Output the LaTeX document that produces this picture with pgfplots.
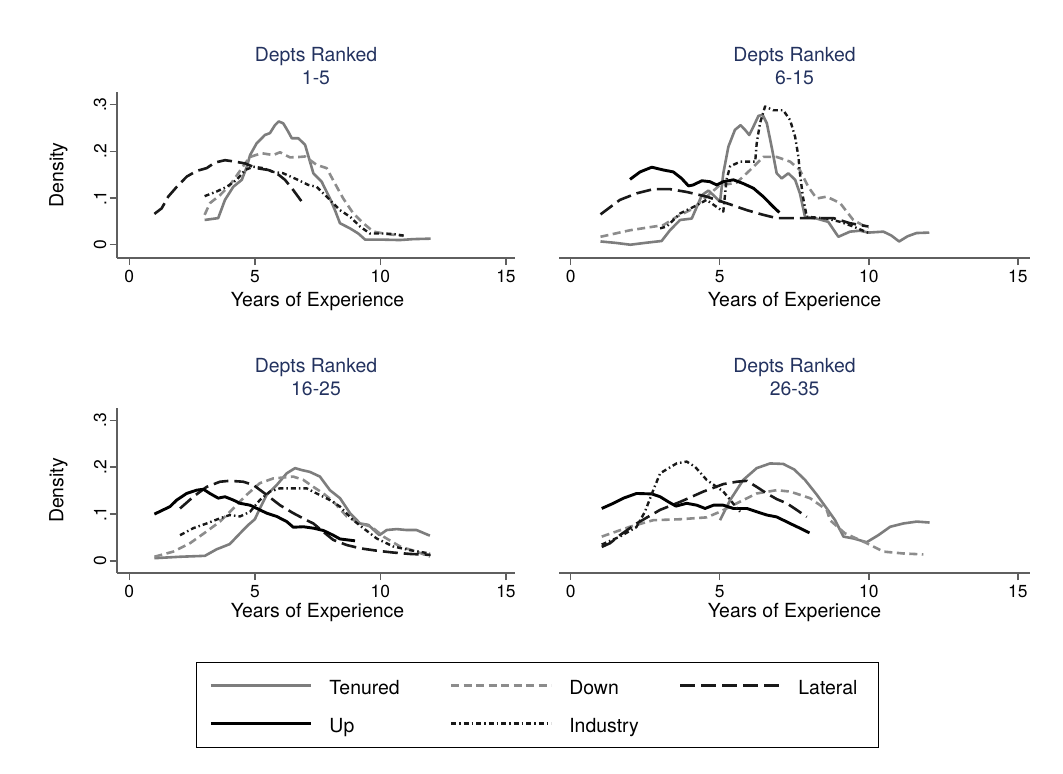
\documentclass[border=0pt]{standalone}
\usepackage{fontspec}
\setmainfont{TeX Gyre Heros}
\usepackage{pgfplots}
\pgfplotsset{compat=1.18}

\definecolor{tengray}{RGB}{125,125,125}
\definecolor{downgray}{RGB}{140,140,140}
\definecolor{axisgray}{RGB}{95,95,95}
\definecolor{titlenavy}{RGB}{35,50,95}

\newcommand{\ticksize}{\fontsize{17.5}{20}\selectfont}
\newcommand{\labsize}{\fontsize{19.5}{22}\selectfont}

\pgfplotsset{
  panel/.style={
    scale only axis, anchor=south west,
    axis x line*=bottom, axis y line*=left,
    axis line style={line width=1.8bp, draw=axisgray},
    tick style={line width=1.5bp, draw=axisgray},
    tick align=outside, major tick length=7.5bp,
    xtick={0,5,10,15}, xticklabels={0,5,10,15},
    ytick={0,0.1,0.2,0.3}, yticklabels={0,.1,.2,.3},
    xticklabel style={font=\ticksize, anchor=north, inner sep=0pt, yshift=-5bp},
    yticklabel style={font=\ticksize, rotate=90, anchor=south, inner xsep=0pt, inner ysep=3bp},
  },
  noy/.style={axis y line=none, ytick=\empty},
  tenured/.style={color=tengray, line width=2.6bp, solid, line join=round},
  down/.style={color=downgray, line width=2.6bp, dash pattern=on 8bp off 4.5bp, line join=round},
  lateral/.style={color=black!90, line width=2.6bp, dash pattern=on 15bp off 6bp, line join=round},
  up/.style={color=black, line width=2.9bp, solid, line join=round},
  industry/.style={color=black!90, line width=2.4bp, dash pattern=on 5bp off 3bp on 1.5bp off 3bp, line join=round},
}

\begin{document}
\begin{tikzpicture}
\path[use as bounding box] (0bp,0bp) rectangle (1063bp,-774bp);

% ---- Depts Ranked 1-5
\begin{axis}[panel, at={(117bp,-257.7bp)}, width=398bp, height=166bp,
  xmin=-0.49, xmax=15.36, ymin=-0.0278, ymax=0.3277]
\addplot[tenured] coordinates {(3.0,0.053) (3.54,0.057) (3.81,0.096) (4.14,0.124) (4.48,0.139) (4.68,0.167) (4.81,0.192) (5.07,0.217) (5.4,0.235) (5.6,0.239) (5.8,0.256) (5.95,0.264) (6.13,0.26) (6.33,0.242) (6.47,0.228) (6.73,0.228) (7.0,0.214) (7.33,0.153) (7.66,0.135) (7.99,0.099) (8.19,0.074) (8.39,0.046) (8.79,0.035) (9.12,0.024) (9.39,0.011) (9.98,0.011) (10.78,0.01) (11.31,0.012) (12.0,0.013)};
\addplot[down] coordinates {(3.0,0.064) (3.21,0.089) (3.61,0.106) (4.01,0.128) (4.34,0.153) (4.61,0.174) (4.81,0.188) (5.27,0.196) (5.73,0.192) (6.0,0.198) (6.4,0.187) (6.8,0.188) (7.0,0.189) (7.46,0.171) (7.86,0.164) (8.19,0.131) (8.52,0.099) (8.92,0.067) (9.32,0.046) (9.72,0.028) (10.25,0.023) (10.9,0.019)};
\addplot[lateral] coordinates {(1.0,0.066) (1.29,0.078) (1.55,0.103) (1.89,0.124) (2.29,0.146) (2.68,0.158) (3.08,0.164) (3.41,0.176) (3.81,0.181) (4.21,0.178) (4.61,0.174) (5.07,0.164) (5.54,0.16) (5.87,0.153) (6.2,0.139) (6.53,0.117) (6.87,0.092) (7.0,0.085)};
\addplot[industry] coordinates {(3.0,0.104) (3.48,0.114) (3.88,0.124) (4.28,0.139) (4.61,0.16) (4.94,0.167) (5.34,0.164) (5.73,0.156) (6.13,0.153) (6.67,0.14) (7.13,0.128) (7.46,0.124) (7.99,0.096) (8.39,0.074) (8.79,0.06) (9.19,0.039) (9.58,0.024) (10.12,0.024) (10.51,0.023) (11.0,0.019)};
\end{axis}

% ---- Depts Ranked 6-15
\begin{axis}[panel, noy, at={(559.3bp,-257.7bp)}, width=470.7bp, height=166bp,
  xmin=-0.383, xmax=15.41, ymin=-0.0278, ymax=0.3277]
\addplot[tenured] coordinates {(1.0,0.007) (1.5,0.004) (2.0,0.0) (2.5,0.004) (3.05,0.008) (3.33,0.031) (3.67,0.053) (4.06,0.056) (4.23,0.081) (4.4,0.106) (4.62,0.116) (4.84,0.103) (5.01,0.092) (5.12,0.153) (5.29,0.21) (5.51,0.246) (5.7,0.256) (5.85,0.246) (5.99,0.235) (6.13,0.253) (6.3,0.276) (6.44,0.278) (6.58,0.26) (6.74,0.21) (6.91,0.153) (7.08,0.142) (7.3,0.153) (7.53,0.139) (7.69,0.11) (7.86,0.06) (8.25,0.056) (8.64,0.049) (8.98,0.017) (9.37,0.028) (9.7,0.03) (9.99,0.026) (10.49,0.028) (10.75,0.02) (11.02,0.007) (11.3,0.018) (11.6,0.025) (12.03,0.026)};
\addplot[down] coordinates {(1.0,0.017) (1.99,0.031) (3.11,0.042) (3.56,0.06) (4.12,0.078) (4.56,0.103) (5.01,0.128) (5.3,0.13) (5.57,0.133) (6.02,0.16) (6.46,0.188) (6.91,0.188) (7.36,0.178) (7.69,0.16) (7.97,0.124) (8.25,0.099) (8.59,0.103) (9.04,0.089) (9.48,0.053) (9.99,0.035)};
\addplot[lateral] coordinates {(1.0,0.065) (1.65,0.096) (2.21,0.11) (2.77,0.119) (3.33,0.119) (3.89,0.113) (4.56,0.103) (5.23,0.089) (5.91,0.074) (6.46,0.064) (6.91,0.057) (7.5,0.057) (8.2,0.057) (8.81,0.057) (9.37,0.046) (9.99,0.039)};
\addplot[up] coordinates {(1.99,0.14) (2.33,0.156) (2.72,0.166) (3.11,0.16) (3.44,0.156) (3.72,0.142) (3.95,0.126) (4.11,0.128) (4.4,0.137) (4.67,0.135) (4.9,0.128) (5.12,0.135) (5.46,0.139) (5.79,0.131) (6.13,0.121) (6.46,0.103) (6.8,0.081) (7.0,0.069)};
\addplot[industry] coordinates {(3.0,0.035) (3.22,0.039) (3.67,0.067) (4.12,0.081) (4.56,0.096) (4.96,0.078) (5.12,0.071) (5.23,0.14) (5.35,0.168) (5.69,0.178) (6.19,0.178) (6.24,0.217) (6.35,0.26) (6.52,0.296) (6.8,0.288) (7.13,0.288) (7.36,0.267) (7.53,0.231) (7.64,0.188) (7.69,0.153) (7.79,0.103) (7.92,0.06) (8.59,0.056) (9.04,0.049) (9.48,0.039) (10.0,0.025)};
\end{axis}

% ---- Depts Ranked 16-25 (carries the shared legend)
\begin{axis}[panel, at={(117bp,-572.7bp)}, width=398bp, height=164.4bp,
  xmin=-0.49, xmax=15.36, ymin=-0.025, ymax=0.3256,
  legend columns=3, legend cell align=left,
  legend image code/.code={\draw[#1] (0bp,0bp) -- (100bp,0bp);},
  legend style={at={(1.0565,-0.8017)}, anchor=center, draw=black, line width=1bp,
    font=\labsize, inner xsep=13bp, inner ysep=15bp, row sep=21bp,
    nodes={inner sep=0pt, text height=17bp, text depth=0bp},
    /tikz/every odd column/.append style={column sep=17bp},
    /tikz/column 2/.append style={column sep=50bp},
    /tikz/column 4/.append style={column sep=40bp},
    /tikz/column 6/.append style={text width=67bp}}]
\addplot[tenured] coordinates {(1.0,0.006) (2.02,0.009) (3.01,0.011) (3.48,0.025) (4.0,0.036) (4.41,0.059) (4.74,0.077) (5.0,0.089) (5.2,0.112) (5.47,0.141) (5.87,0.162) (6.27,0.187) (6.6,0.198) (6.86,0.194) (7.19,0.19) (7.59,0.18) (7.99,0.151) (8.39,0.134) (8.79,0.102) (9.19,0.08) (9.52,0.077) (9.96,0.055) (10.25,0.066) (10.65,0.068) (11.04,0.066) (11.44,0.066) (11.97,0.054)};
\addlegendentry{Tenured}
\addplot[down] coordinates {(1.0,0.009) (1.75,0.02) (2.42,0.038) (3.08,0.063) (3.61,0.084) (4.14,0.112) (4.67,0.141) (5.2,0.166) (5.73,0.176) (6.53,0.18) (6.93,0.173) (7.33,0.158) (7.73,0.144) (8.12,0.127) (8.66,0.095) (9.19,0.08) (9.65,0.073) (10.12,0.052) (10.78,0.031) (11.44,0.02) (11.97,0.009)};
\addlegendentry{Down}
\addplot[lateral] coordinates {(2.02,0.112) (2.55,0.137) (3.08,0.158) (3.61,0.169) (4.0,0.171) (4.54,0.169) (4.94,0.162) (5.47,0.141) (6.0,0.119) (6.53,0.102) (7.06,0.087) (7.33,0.08) (7.73,0.062) (8.12,0.045) (8.66,0.034) (9.19,0.027) (9.85,0.022) (10.51,0.018) (11.18,0.015) (12.0,0.013)};
\addlegendentry{Lateral}
\addplot[up] coordinates {(1.0,0.1) (1.35,0.109) (1.62,0.116) (1.89,0.13) (2.28,0.144) (2.68,0.151) (2.95,0.153) (3.21,0.144) (3.54,0.134) (3.81,0.137) (4.14,0.13) (4.41,0.123) (4.81,0.119) (5.2,0.109) (5.47,0.102) (5.87,0.095) (6.27,0.084) (6.53,0.072) (6.93,0.073) (7.33,0.07) (7.73,0.065) (8.12,0.055) (8.39,0.047) (8.99,0.043)};
\addlegendentry{Up}
\addplot[industry] coordinates {(2.02,0.055) (2.55,0.07) (3.08,0.08) (3.61,0.091) (4.0,0.098) (4.41,0.095) (4.81,0.105) (5.2,0.13) (5.6,0.148) (6.0,0.155) (6.53,0.155) (7.06,0.155) (7.46,0.144) (7.99,0.13) (8.39,0.116) (8.92,0.087) (9.32,0.07) (9.85,0.048) (10.51,0.031) (11.18,0.023) (11.97,0.016)};
\addlegendentry{Industry}
\end{axis}

% ---- Depts Ranked 26-35
\begin{axis}[panel, noy, at={(559.3bp,-572.7bp)}, width=470.7bp, height=164.4bp,
  xmin=-0.383, xmax=15.41, ymin=-0.025, ymax=0.3256]
\addplot[tenured] coordinates {(5.01,0.087) (5.35,0.13) (5.79,0.173) (6.24,0.198) (6.69,0.208) (7.13,0.207) (7.5,0.195) (7.86,0.173) (8.26,0.141) (8.59,0.112) (8.87,0.087) (9.15,0.052) (9.49,0.048) (9.93,0.04) (10.32,0.055) (10.72,0.073) (11.16,0.08) (11.61,0.084) (12.04,0.082)};
\addplot[down] coordinates {(1.04,0.052) (1.99,0.073) (2.77,0.087) (3.67,0.089) (4.56,0.093) (5.01,0.105) (5.79,0.13) (6.24,0.144) (6.91,0.151) (7.36,0.148) (8.03,0.134) (8.59,0.109) (8.7,0.087) (9.2,0.059) (9.93,0.038) (10.49,0.02) (11.16,0.016) (11.83,0.014)};
\addplot[lateral] coordinates {(1.04,0.03) (1.32,0.038) (1.65,0.055) (2.21,0.08) (3.0,0.109) (3.67,0.126) (4.45,0.148) (5.12,0.164) (5.57,0.169) (5.91,0.171) (6.24,0.158) (6.58,0.144) (6.91,0.132) (7.25,0.123) (7.58,0.109) (7.92,0.094)};
\addplot[up] coordinates {(1.04,0.112) (1.43,0.123) (1.77,0.134) (2.21,0.144) (2.72,0.143) (3.0,0.137) (3.28,0.126) (3.53,0.117) (3.89,0.123) (4.23,0.119) (4.51,0.112) (4.79,0.119) (5.12,0.119) (5.46,0.112) (5.91,0.112) (6.24,0.105) (6.58,0.098) (6.91,0.094) (7.36,0.08) (7.69,0.07) (8.01,0.06)};
\addplot[industry] coordinates {(1.04,0.035) (1.65,0.052) (2.2,0.072) (2.49,0.105) (2.77,0.151) (3.0,0.187) (3.55,0.208) (3.89,0.212) (4.17,0.201) (4.56,0.173) (5.12,0.148) (5.68,0.105)};
\end{axis}

% panel titles
\begin{scope}[every node/.style={anchor=base, font=\labsize, text=titlenavy, inner sep=0pt}]
\node at (316bp,-61bp) {Depts Ranked};
\node at (316bp,-84bp) {1-5};
\node at (794.6bp,-61bp) {Depts Ranked};
\node at (794.6bp,-84bp) {6-15};
\node at (316bp,-372bp) {Depts Ranked};
\node at (316bp,-395bp) {16-25};
\node at (794.6bp,-372bp) {Depts Ranked};
\node at (794.6bp,-395bp) {26-35};
\end{scope}

% axis titles
\begin{scope}[every node/.style={font=\labsize, inner sep=0pt}]
\node[anchor=base] at (317.5bp,-306bp) {Years of Experience};
\node[anchor=base] at (794.6bp,-306bp) {Years of Experience};
\node[anchor=base] at (317.5bp,-617bp) {Years of Experience};
\node[anchor=base] at (794.6bp,-617bp) {Years of Experience};
\node[rotate=90, anchor=center] at (58.5bp,-174.7bp) {Density};
\node[rotate=90, anchor=center] at (58.5bp,-490.5bp) {Density};
\end{scope}
\end{tikzpicture}
\end{document}
